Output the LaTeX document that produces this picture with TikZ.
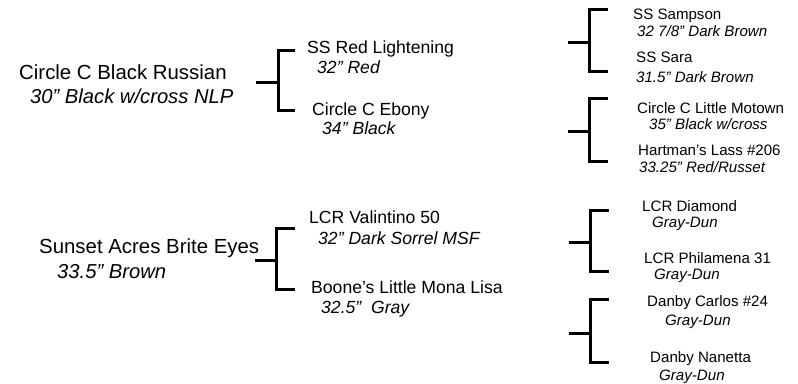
\documentclass[tikz,border=0pt]{standalone}
\usepackage{fontspec}
\setmainfont{Liberation Sans}
\begin{document}
\begin{tikzpicture}[x=1bp,y=-1bp,
  g1/.style={font=\fontsize{20.4bp}{24bp}\selectfont, anchor=base west, inner sep=0pt},
  g1i/.style={g1, font=\fontsize{20.2bp}{24bp}\selectfont\itshape},
  g2/.style={font=\fontsize{17.6bp}{21bp}\selectfont, anchor=base west, inner sep=0pt},
  g2i/.style={g2, font=\fontsize{17.6bp}{21bp}\selectfont\itshape},
  g3/.style={font=\fontsize{15.1bp}{18bp}\selectfont, anchor=base west, inner sep=0pt},
  g3i/.style={g3, font=\fontsize{15.1bp}{18bp}\selectfont\itshape},
  brk/.style={line width=3bp, line join=miter, line cap=butt}]
\useasboundingbox (0,0) rectangle (798,383);

% generation 1
\node[g1]  (crn)  at (19,79)  {Circle C Black Russian};
\node[g1i] (crnd) at (30,103) {30” Black w/cross NLP};
\node[g1]  (sab)  at (39,253) {Sunset Acres Brite Eyes};
\node[g1i] (sabd) at (57,278) {33.5” Brown};

% generation 2
\node[g2]  (srl)  at (307,53)  {SS Red Lightening};
\node[g2i] (srld) at (317,73)  {32” Red};
\node[g2]  (cce)  at (312,115) {Circle C Ebony};
\node[g2i] (cced) at (322,134) {34” Black};
\node[g2]  (lcv)  at (309,223) {LCR Valintino 50};
\node[g2i] (lcvd) at (318,244) {32” Dark Sorrel MSF};
\node[g2]  (blm)  at (311,293) {Boone's Little Mona Lisa};
\node[g2i] (blmd) at (321,313) {32.5”\ \ Gray};

% generation 3
\node[g3]  (ssp)  at (633,19)  {SS Sampson};
\node[g3i] (sspd) at (637,36)  {32 7/8” Dark Brown};
\node[g3]  (sss)  at (636,62)  {SS Sara};
\node[g3i] (sssd) at (636,82)  {31.5” Dark Brown};
\node[g3]  (clm)  at (637,113) {Circle C Little Motown};
\node[g3i] (clmd) at (649,129) {35” Black w/cross};
\node[g3]  (hl)   at (638,155) {Hartman's Lass \#206};
\node[g3i] (hld)  at (639,172) {33.25” Red/Russet};
\node[g3]  (lcd)  at (642,211) {LCR Diamond};
\node[g3i] (lcdd) at (652,227) {Gray-Dun};
\node[g3]  (lcp)  at (644,263) {LCR Philamena 31};
\node[g3i] (lcpd) at (654,279) {Gray-Dun};
\node[g3]  (dc)   at (647,306) {Danby Carlos \#24};
\node[g3i] (dcd)  at (665,325) {Gray-Dun};
\node[g3]  (dn)   at (650,362) {Danby Nanetta};
\node[g3i] (dnd)  at (659,380) {Gray-Dun};

% bracket coordinates
\coordinate (b1s) at (256,82);  \coordinate (b1m) at (278,82);
\coordinate (b1t) at (278,50);  \coordinate (b1u) at (295,50);
\coordinate (b1b) at (278,110); \coordinate (b1l) at (295,110);

\coordinate (b2s) at (255,260); \coordinate (b2m) at (276,260);
\coordinate (b2t) at (276,228); \coordinate (b2u) at (295,228);
\coordinate (b2b) at (276,289); \coordinate (b2l) at (295,289);

\coordinate (b3s) at (568,42);  \coordinate (b3m) at (589,42);
\coordinate (b3t) at (589,9);   \coordinate (b3u) at (608,9);
\coordinate (b3b) at (589,71);  \coordinate (b3l) at (608,71);

\coordinate (b4s) at (568,131); \coordinate (b4m) at (589,131);
\coordinate (b4t) at (589,98);  \coordinate (b4u) at (608,98);
\coordinate (b4b) at (589,161); \coordinate (b4l) at (608,161);

\coordinate (b5s) at (569,242); \coordinate (b5m) at (590,242);
\coordinate (b5t) at (590,210); \coordinate (b5u) at (609,210);
\coordinate (b5b) at (590,271); \coordinate (b5l) at (609,271);

\coordinate (b6s) at (569,333); \coordinate (b6m) at (590,333);
\coordinate (b6t) at (590,299); \coordinate (b6u) at (609,299);
\coordinate (b6b) at (590,362); \coordinate (b6l) at (609,362);

\foreach \b in {b1,b2,b3,b4,b5,b6}{
  \draw[brk] (\b s) -- (\b m);
  \draw[brk] (\b u) -- (\b t) -- (\b b) -- (\b l);
}
\end{tikzpicture}
\end{document}
